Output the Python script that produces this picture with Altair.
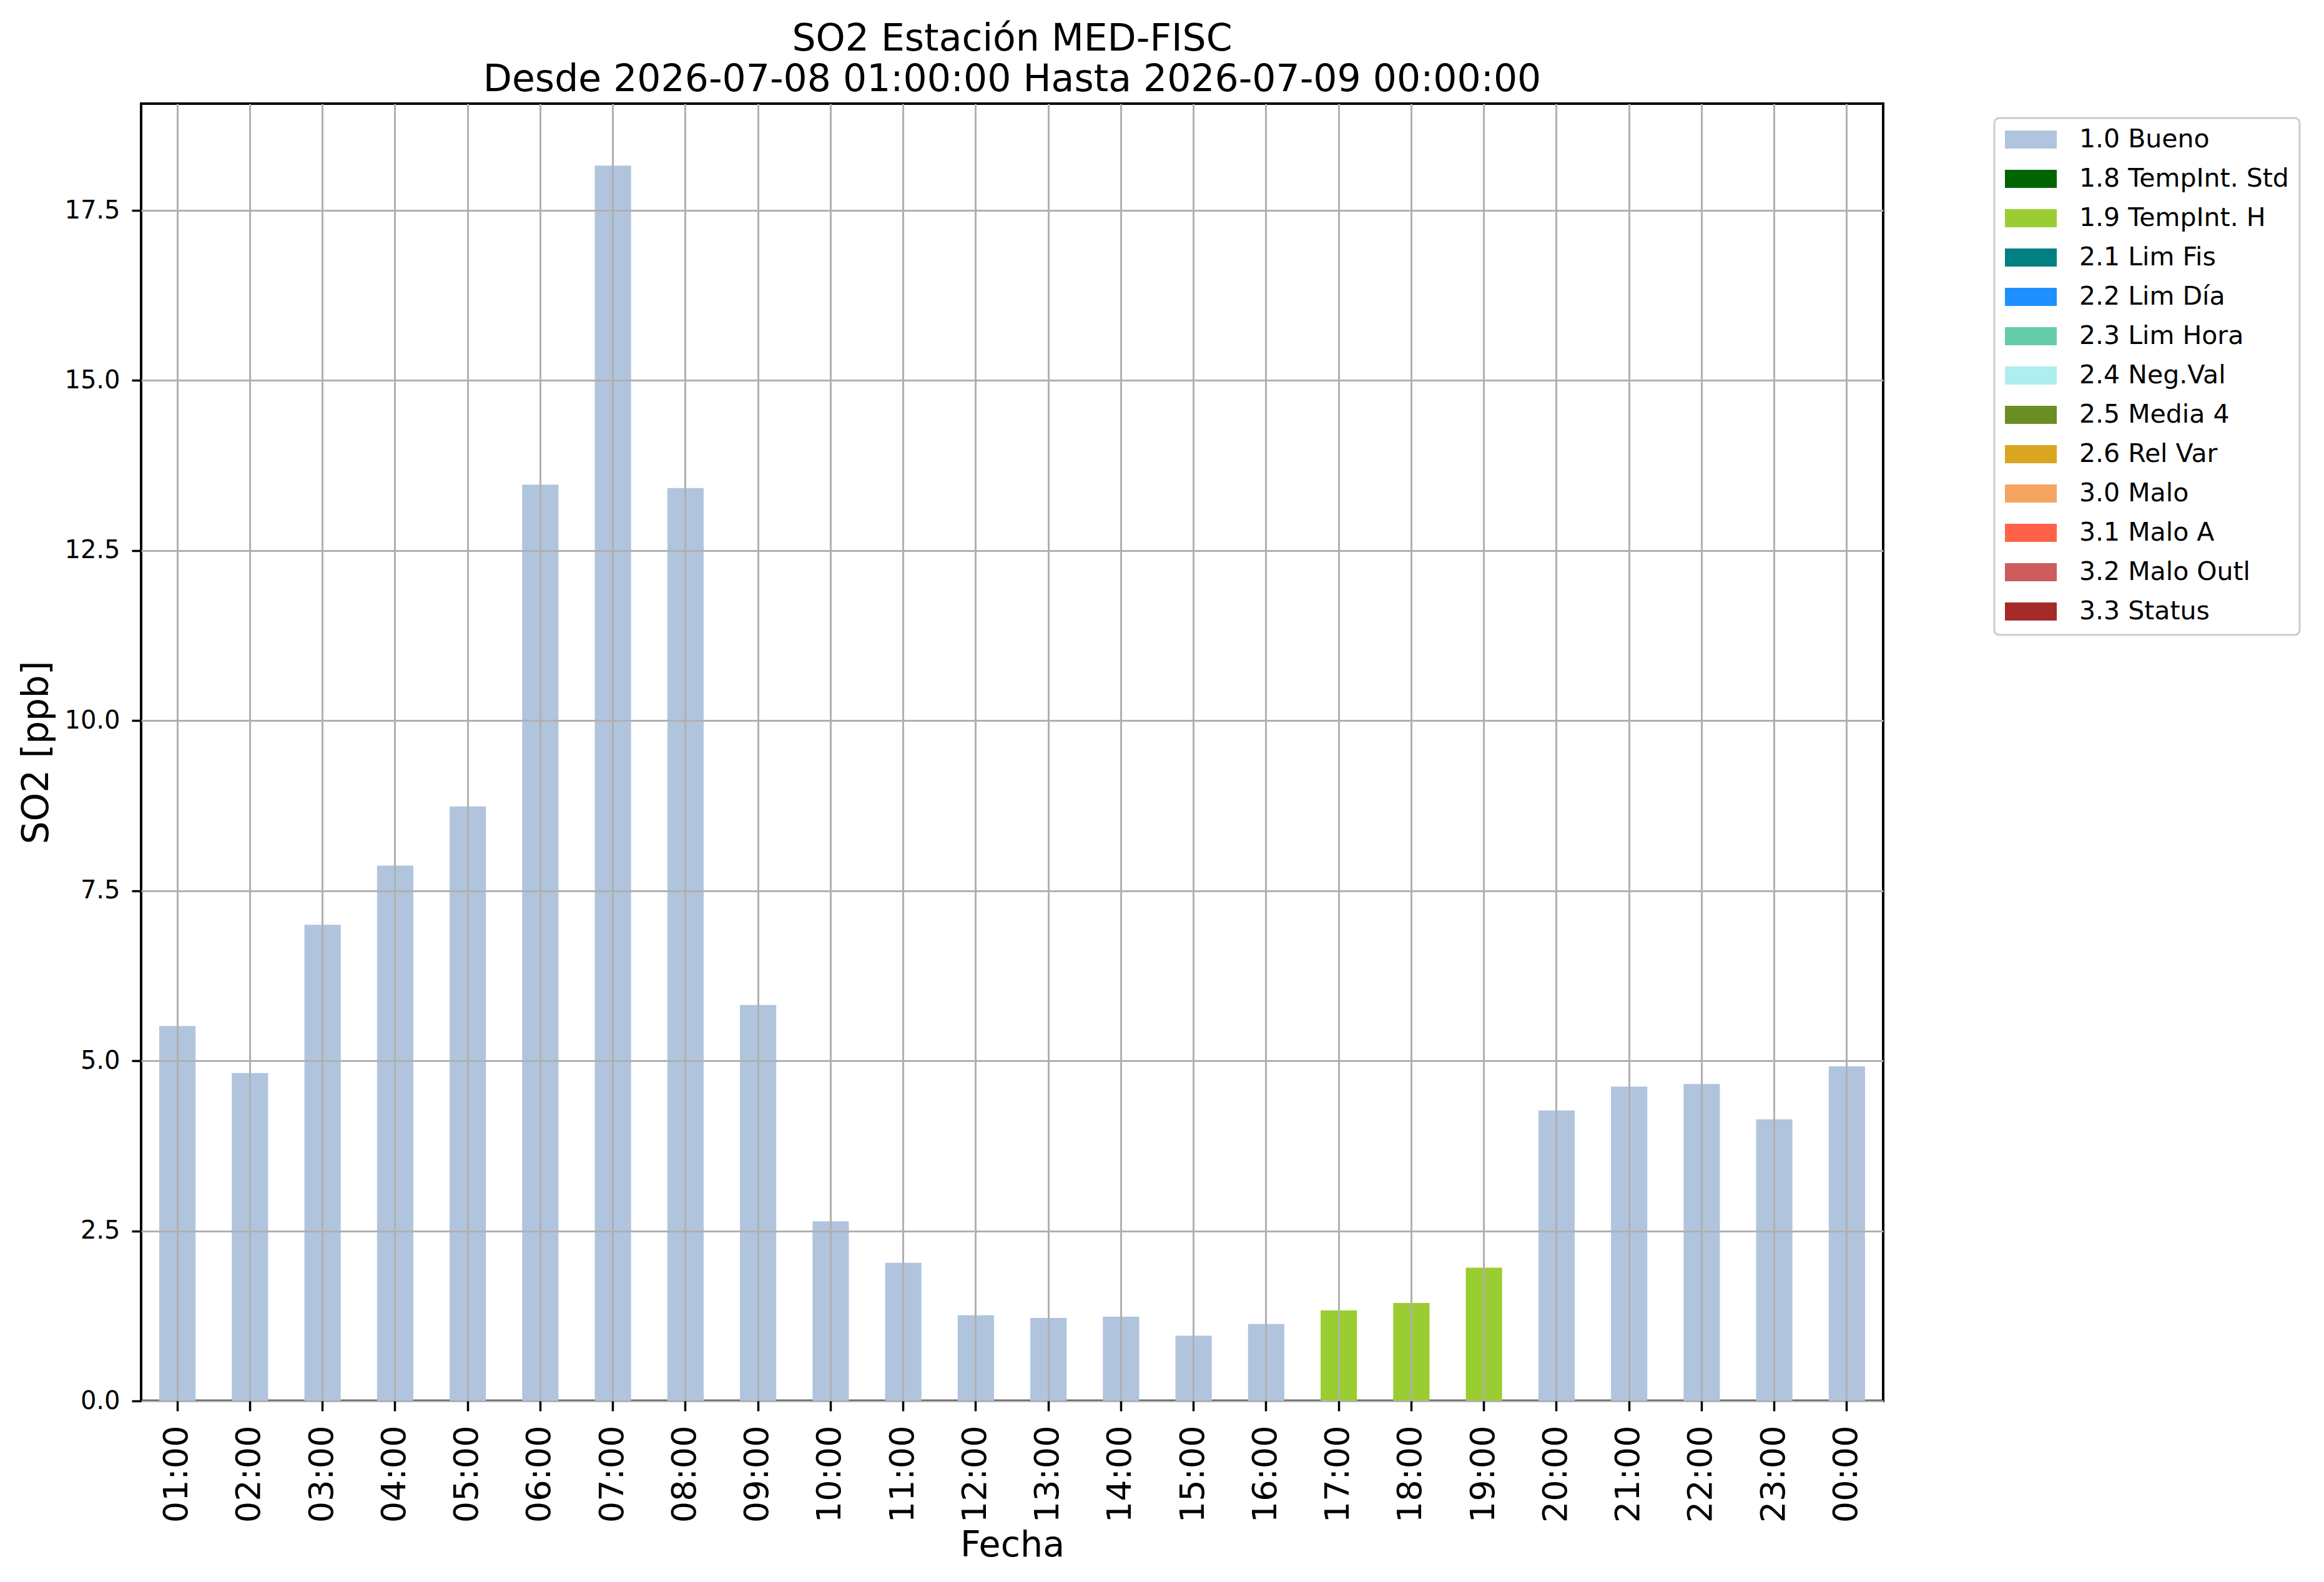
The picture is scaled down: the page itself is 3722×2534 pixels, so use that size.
import altair as alt
import pandas as pd

FONT = "DejaVu Sans"

horas = ["01:00", "02:00", "03:00", "04:00", "05:00", "06:00", "07:00", "08:00",
         "09:00", "10:00", "11:00", "12:00", "13:00", "14:00", "15:00", "16:00",
         "17:00", "18:00", "19:00", "20:00", "21:00", "22:00", "23:00", "00:00"]

valores = [5.51, 4.82, 7.00, 7.87, 8.74, 13.47, 18.16, 13.42,
           5.82, 2.64, 2.03, 1.26, 1.22, 1.24, 0.96, 1.13,
           1.33, 1.44, 1.96, 4.27, 4.62, 4.66, 4.14, 4.92]

flags = ["1.0 Bueno", "1.0 Bueno", "1.0 Bueno", "1.0 Bueno", "1.0 Bueno", "1.0 Bueno",
         "1.0 Bueno", "1.0 Bueno", "1.0 Bueno", "1.0 Bueno", "1.0 Bueno", "1.0 Bueno",
         "1.0 Bueno", "1.0 Bueno", "1.0 Bueno", "1.0 Bueno",
         "1.9 TempInt. H", "1.9 TempInt. H", "1.9 TempInt. H",
         "1.0 Bueno", "1.0 Bueno", "1.0 Bueno", "1.0 Bueno", "1.0 Bueno"]

categorias = ["1.0 Bueno", "1.8 TempInt. Std", "1.9 TempInt. H", "2.1 Lim Fis",
              "2.2 Lim Día", "2.3 Lim Hora", "2.4 Neg.Val", "2.5 Media 4",
              "2.6 Rel Var", "3.0 Malo", "3.1 Malo A", "3.2 Malo Outl", "3.3 Status"]

colores = ["#B0C4DE", "#006400", "#9ACD32", "#008080", "#1E90FF", "#66CDAA",
           "#AFEEEE", "#6B8E23", "#DAA520", "#F4A460", "#FF6347", "#CD5C5C", "#A52A2A"]

y_ticks = [0.0, 2.5, 5.0, 7.5, 10.0, 12.5, 15.0, 17.5]

titulo = ["SO2 Estación MED-FISC",
          "Desde 2026-07-08 01:00:00 Hasta 2026-07-09 00:00:00"]

df = pd.DataFrame({"Fecha": horas, "SO2": valores, "Flag": flags})

W, H = 2790, 2078

chart = alt.Chart(df).mark_bar().encode(
    x=alt.X(
        "Fecha:N",
        sort=horas,
        scale=alt.Scale(paddingInner=0.5, paddingOuter=0.25),
        axis=alt.Axis(
            title="Fecha",
            labelAngle=270,
            labelAlign="right",
            labelBaseline="middle",
            labelFont=FONT,
            labelFontSize=54,
            labelColor="black",
            labelPadding=23,
            labelOverlap=False,
            tickSize=16,
            tickWidth=3.5,
            tickColor="black",
            bandPosition=0.5,
            grid=True,
            gridColor="#b0b0b0",
            gridWidth=3,
            domain=False,
            titleFont=FONT,
            titleFontSize=57,
            titleFontWeight="normal",
            titleColor="black",
            titleX=W / 2,
            titleY=248,
            titleBaseline="alphabetic",
            zindex=1,
        ),
    ),
    y=alt.Y(
        "SO2:Q",
        scale=alt.Scale(domain=[0, 19.07], nice=False, zero=True),
        axis=alt.Axis(
            title="SO2 [ppb]",
            values=y_ticks,
            format=".1f",
            labelFont=FONT,
            labelFontSize=40,
            labelColor="black",
            labelPadding=19,
            tickSize=15,
            tickWidth=3.5,
            tickColor="black",
            grid=True,
            gridColor="#b0b0b0",
            gridWidth=3,
            domain=False,
            titleFont=FONT,
            titleFontSize=58,
            titleFontWeight="normal",
            titleColor="black",
            titleAngle=270,
            titleX=-150,
            titleY=H / 2,
            titleBaseline="alphabetic",
            zindex=1,
        ),
    ),
    color=alt.Color(
        "Flag:N",
        scale=alt.Scale(domain=categorias, range=colores),
        legend=alt.Legend(
            title=None,
            orient="none",
            legendX=2968,
            legendY=23,
            symbolType="M-1,-0.35L1,-0.35L1,0.35L-1,0.35Z",
            symbolSize=6889,
            symbolStrokeWidth=0,
            symbolOpacity=1,
            labelFont=FONT,
            labelFontSize=41,
            labelColor="black",
            labelOffset=36,
            labelLimit=1000,
            clipHeight=35,
            rowPadding=21,
            padding=17,
            strokeColor="#cccccc",
            fillColor="white",
            cornerRadius=8,
        ),
    ),
).properties(
    width=W,
    height=H,
    title=alt.TitleParams(
        text=titulo,
        font=FONT,
        fontSize=60,
        fontWeight="normal",
        color="black",
        anchor="middle",
        frame="group",
        baseline="alphabetic",
        lineHeight=65,
        offset=24,
        dy=64,
    ),
    autosize="none",
    padding={"left": 218, "top": 158, "right": 690, "bottom": 270},
).configure_view(
    stroke="black",
    strokeWidth=4,
).configure_legend(
    strokeWidth=3,
)

chart.save("out.html", embed_options={"renderer": "svg", "actions": False})
